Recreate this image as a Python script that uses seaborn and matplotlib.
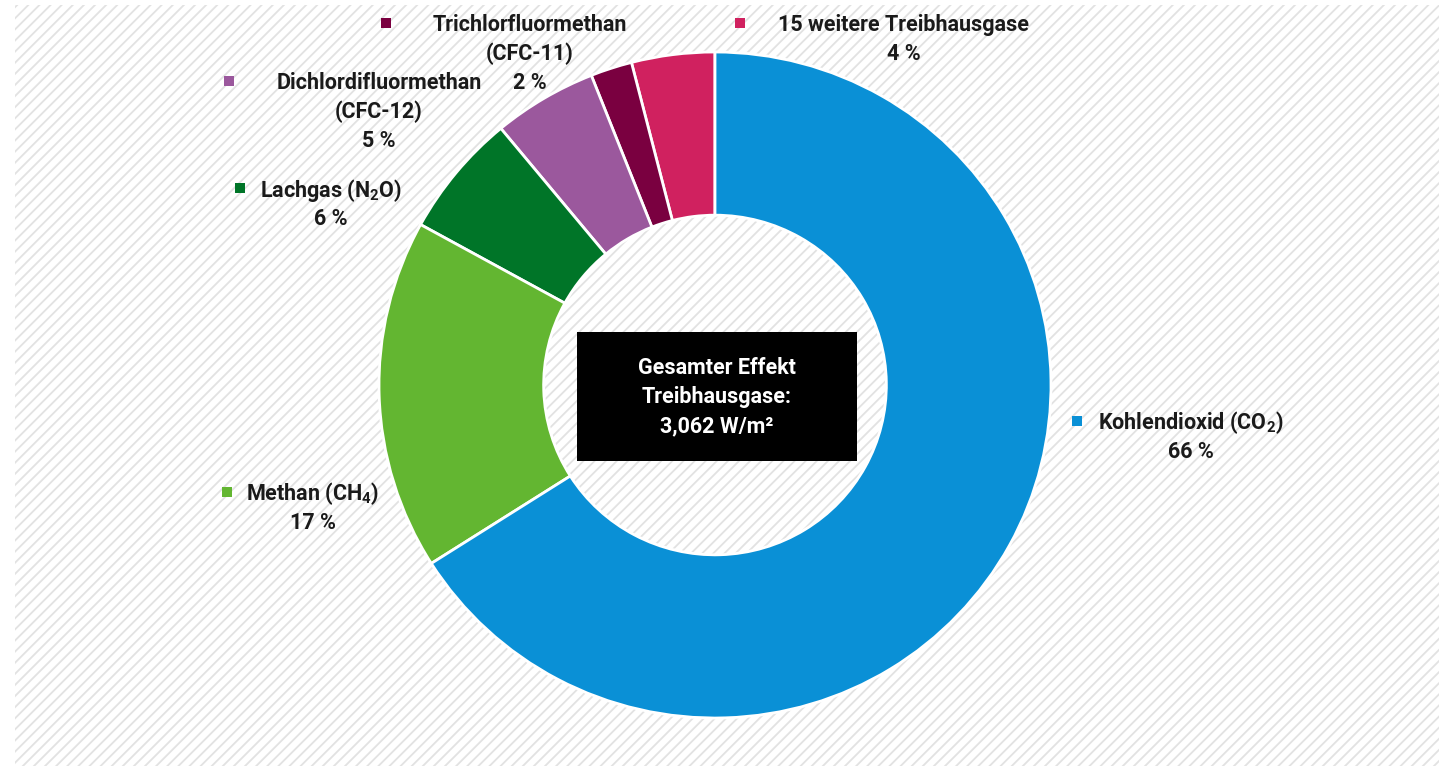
import numpy as np
import matplotlib
matplotlib.use("Agg")
import matplotlib.pyplot as plt
import matplotlib.patches as mpatches
import seaborn as sns

# data (share of total radiative forcing, %)
gases = ["15 weitere Treibhausgase", "Trichlorfluormethan (CFC-11)", "Dichlordifluormethan (CFC-12)",
         "Lachgas (N2O)", "Methan (CH4)", "Kohlendioxid (CO2)"]
shares = [4, 2, 5, 6, 17, 66]
colors = ["#d0215f", "#7a0040", "#9b589d", "#007528", "#63b631", "#0a90d6"]
label_lines = [
    ["15 weitere Treibhausgase", "4 %"],
    ["Trichlorfluormethan", "(CFC-11)", "2 %"],
    ["Dichlordifluormethan", "(CFC-12)", "5 %"],
    [r"Lachgas (N$_\mathregular{2}$O)", "6 %"],
    [r"Methan (CH$_\mathregular{4}$)", "17 %"],
    [r"Kohlendioxid (CO$_\mathregular{2}$)", "66 %"],
]
center_lines = ["Gesamter Effekt", "Treibhausgase:", "3,062 W/m²"]

sns.set_theme(style="white")
plt.rcParams["font.family"] = ["Roboto", "DejaVu Sans"]
plt.rcParams["hatch.color"] = "#e2e2e2"
plt.rcParams["hatch.linewidth"] = 1.3

W, H = 1439, 766
fig = plt.figure(figsize=(W / 100, H / 100), dpi=100)
fig.patch.set_facecolor("white")

def fx(px):
    return px / W

def fy(py):
    return 1 - py / H

# hatched background
bg = mpatches.Rectangle((fx(15), 0), 1 - fx(15), fy(5), transform=fig.transFigure,
                        facecolor="white", edgecolor="#e2e2e2", hatch="///", linewidth=0, zorder=-5)
fig.patches.append(bg)

# donut: centre (715, 385) px, radius ~335 px wide / 333 px high
cx, cy, rx, ry = 715, 385, 336, 333
ax = fig.add_axes([0, 0, 1, 1], zorder=1)
ax.pie(shares, colors=colors, startangle=90, counterclock=True, radius=1,
       wedgeprops=dict(width=0.49, edgecolor="white", linewidth=2))
ax.set_aspect("auto")
ax.set_xlim((0 - cx) / rx, (W - cx) / rx)
ax.set_ylim((cy - H) / ry, cy / ry)
ax.axis("off")
ax.patch.set_alpha(0)

# central box
box = mpatches.Rectangle((fx(577), fy(461)), fx(857) - fx(577), fy(332) - fy(461),
                         transform=fig.transFigure, facecolor="black", edgecolor="none", zorder=5)
fig.patches.append(box)
for i, line in enumerate(center_lines):
    fig.text(fx(717), fy(368 + i * 29), line, color="white", fontsize=15.5, fontweight="bold",
             ha="center", va="center", zorder=6)

# labels: text centre x, first line y, marker x
label_pos = [(904, 25, 740), (530, 25, 386), (379, 83, 229),
             (331, 190, 240), (313, 494, 227), (1191, 423, 1077)]
for lines, col, (tx, ty, mx) in zip(label_lines, colors, label_pos):
    for i, line in enumerate(lines):
        fig.text(fx(tx), fy(ty + i * 29), line, fontsize=15.5, fontweight="bold",
                 color="#1a1a1a", ha="center", va="center", zorder=6)
    fig.patches.append(mpatches.Rectangle((fx(mx - 5), fy(ty + 3)), fx(10), 10 / H,
                                          transform=fig.transFigure, facecolor=col,
                                          edgecolor="none", zorder=6))

fig.savefig("out.png", dpi=100)
